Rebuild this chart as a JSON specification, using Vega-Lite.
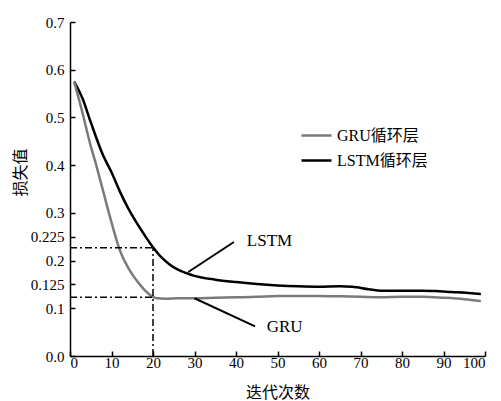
{
  "$schema": "https://vega.github.io/schema/vega-lite/v6.json",
  "width": 415,
  "height": 334,
  "autosize": "none",
  "padding": {"left": 70, "top": 22, "right": 16, "bottom": 45},
  "background": "white",
  "config": {
    "view": {"stroke": null},
    "axis": {
      "grid": false,
      "domainColor": "black",
      "domainWidth": 1.5,
      "tickColor": "black",
      "tickWidth": 1.5,
      "labelFont": "Liberation Serif",
      "labelFontSize": 15,
      "labelColor": "black",
      "labelOverlap": false,
      "titleFont": "Noto Sans CJK SC",
      "titleFontSize": 16,
      "titleFontWeight": "normal",
      "titleColor": "black"
    },
    "legend": {
      "labelFont": "Liberation Serif, Noto Sans CJK SC",
      "labelFontSize": 16,
      "labelColor": "black"
    }
  },
  "datasets": {
    "curves": [
      {"iter": 1, "loss": 0.575, "model": "LSTM循环层"},
      {"iter": 3, "loss": 0.54, "model": "LSTM循环层"},
      {"iter": 5, "loss": 0.49, "model": "LSTM循环层"},
      {"iter": 8, "loss": 0.42, "model": "LSTM循环层"},
      {"iter": 10, "loss": 0.385, "model": "LSTM循环层"},
      {"iter": 12, "loss": 0.345, "model": "LSTM循环层"},
      {"iter": 14, "loss": 0.31, "model": "LSTM循环层"},
      {"iter": 16, "loss": 0.28, "model": "LSTM循环层"},
      {"iter": 18, "loss": 0.253, "model": "LSTM循环层"},
      {"iter": 20, "loss": 0.228, "model": "LSTM循环层"},
      {"iter": 22, "loss": 0.207, "model": "LSTM循环层"},
      {"iter": 24, "loss": 0.192, "model": "LSTM循环层"},
      {"iter": 26, "loss": 0.181, "model": "LSTM循环层"},
      {"iter": 28, "loss": 0.174, "model": "LSTM循环层"},
      {"iter": 30, "loss": 0.168, "model": "LSTM循环层"},
      {"iter": 35, "loss": 0.16, "model": "LSTM循环层"},
      {"iter": 40, "loss": 0.155, "model": "LSTM循环层"},
      {"iter": 45, "loss": 0.151, "model": "LSTM循环层"},
      {"iter": 50, "loss": 0.148, "model": "LSTM循环层"},
      {"iter": 55, "loss": 0.146, "model": "LSTM循环层"},
      {"iter": 60, "loss": 0.145, "model": "LSTM循环层"},
      {"iter": 65, "loss": 0.146, "model": "LSTM循环层"},
      {"iter": 68, "loss": 0.145, "model": "LSTM循环层"},
      {"iter": 72, "loss": 0.14, "model": "LSTM循环层"},
      {"iter": 75, "loss": 0.137, "model": "LSTM循环层"},
      {"iter": 80, "loss": 0.137, "model": "LSTM循环层"},
      {"iter": 85, "loss": 0.137, "model": "LSTM循环层"},
      {"iter": 88, "loss": 0.136, "model": "LSTM循环层"},
      {"iter": 92, "loss": 0.134, "model": "LSTM循环层"},
      {"iter": 96, "loss": 0.132, "model": "LSTM循环层"},
      {"iter": 99, "loss": 0.13, "model": "LSTM循环层"},
      {"iter": 1, "loss": 0.575, "model": "GRU循环层"},
      {"iter": 3, "loss": 0.51, "model": "GRU循环层"},
      {"iter": 5, "loss": 0.44, "model": "GRU循环层"},
      {"iter": 6, "loss": 0.41, "model": "GRU循环层"},
      {"iter": 8, "loss": 0.345, "model": "GRU循环层"},
      {"iter": 10, "loss": 0.28, "model": "GRU循环层"},
      {"iter": 12, "loss": 0.222, "model": "GRU循环层"},
      {"iter": 14, "loss": 0.185, "model": "GRU循环层"},
      {"iter": 15, "loss": 0.171, "model": "GRU循环层"},
      {"iter": 17, "loss": 0.148, "model": "GRU循环层"},
      {"iter": 18, "loss": 0.138, "model": "GRU循环层"},
      {"iter": 19, "loss": 0.13, "model": "GRU循环层"},
      {"iter": 20, "loss": 0.124, "model": "GRU循环层"},
      {"iter": 21, "loss": 0.121, "model": "GRU循环层"},
      {"iter": 23, "loss": 0.12, "model": "GRU循环层"},
      {"iter": 26, "loss": 0.121, "model": "GRU循环层"},
      {"iter": 30, "loss": 0.121, "model": "GRU循环层"},
      {"iter": 35, "loss": 0.122, "model": "GRU循环层"},
      {"iter": 40, "loss": 0.123, "model": "GRU循环层"},
      {"iter": 45, "loss": 0.124, "model": "GRU循环层"},
      {"iter": 50, "loss": 0.126, "model": "GRU循环层"},
      {"iter": 55, "loss": 0.126, "model": "GRU循环层"},
      {"iter": 60, "loss": 0.126, "model": "GRU循环层"},
      {"iter": 65, "loss": 0.125, "model": "GRU循环层"},
      {"iter": 70, "loss": 0.124, "model": "GRU循环层"},
      {"iter": 75, "loss": 0.123, "model": "GRU循环层"},
      {"iter": 80, "loss": 0.124, "model": "GRU循环层"},
      {"iter": 85, "loss": 0.124, "model": "GRU循环层"},
      {"iter": 90, "loss": 0.122, "model": "GRU循环层"},
      {"iter": 95, "loss": 0.119, "model": "GRU循环层"},
      {"iter": 99, "loss": 0.115, "model": "GRU循环层"}
    ],
    "guides": [
      {"iter": 0, "loss": 0.227, "iter2": 20, "loss2": 0.227},
      {"iter": 0, "loss": 0.123, "iter2": 20, "loss2": 0.123},
      {"iter": 20, "loss": 0, "iter2": 20, "loss2": 0.227}
    ],
    "leaders": [
      {"iter": 28.5, "loss": 0.176, "iter2": 39.5, "loss2": 0.239},
      {"iter": 30, "loss": 0.121, "iter2": 44.6, "loss2": 0.062}
    ],
    "labels": [
      {"iter": 42.6, "loss": 0.241, "t": "LSTM"},
      {"iter": 47.4, "loss": 0.06, "t": "GRU"}
    ]
  },
  "encoding": {
    "x": {
      "field": "iter", "type": "quantitative",
      "scale": {"domain": [0, 100], "nice": false},
      "axis": {"values": [0, 10, 20, 30, 40, 50, 60, 70, 80, 90, 100], "title": "迭代次数", "labelFont": "Liberation Serif", "labelOverlap": false, "tickSize": -5, "labelPadding": 4, "titleBaseline": "middle", "titleY": 36}
    },
    "y": {
      "field": "loss", "type": "quantitative",
      "scale": {"domain": [0, 0.7], "nice": false, "zero": true},
      "axis": {
        "values": [0, 0.1, 0.15, 0.2, 0.25, 0.3, 0.4, 0.5, 0.6, 0.7],
        "labelExpr": "datum.value === 0 ? '0.0' : datum.value === 0.15 ? '0.125' : datum.value === 0.25 ? '0.225' : datum.label",
        "format": ".1f",
        "labelFont": "Liberation Serif",
        "labelOverlap": false,
        "labelFlush": false,
        "tickSize": -5,
        "title": "损失值",
        "labelPadding": 11,
        "titleBaseline": "middle",
        "titleX": -50,
        "titleY": 150
      }
    }
  },
  "layer": [
    {
      "data": {"name": "curves"},
      "mark": {"type": "line", "strokeWidth": 2.5, "interpolate": "monotone"},
      "encoding": {
        "color": {
          "field": "model", "type": "nominal",
          "scale": {"domain": ["GRU循环层", "LSTM循环层"], "range": ["#7a7a7a", "#000000"]},
          "legend": {
            "title": null,
            "orient": "none",
            "legendX": 230,
            "legendY": 97,
            "symbolType": "stroke",
            "symbolSize": 900,
            "symbolStrokeWidth": 2.5,
            "rowPadding": -8,
            "labelOffset": 4
          }
        }
      }
    },
    {
      "data": {"name": "guides"},
      "mark": {"type": "rule", "color": "black", "strokeWidth": 1.5, "strokeDash": [7, 3, 2, 3]},
      "encoding": {
        "x2": {"field": "iter2"},
        "y2": {"field": "loss2"}
      }
    },
    {
      "data": {"name": "leaders"},
      "mark": {"type": "rule", "color": "black", "strokeWidth": 2},
      "encoding": {
        "x2": {"field": "iter2"},
        "y2": {"field": "loss2"}
      }
    },
    {
      "data": {"name": "labels"},
      "mark": {"type": "text", "font": "Liberation Serif", "fontSize": 17, "align": "left", "baseline": "middle", "color": "black"},
      "encoding": {
        "text": {"field": "t"}
      }
    }
  ]
}
